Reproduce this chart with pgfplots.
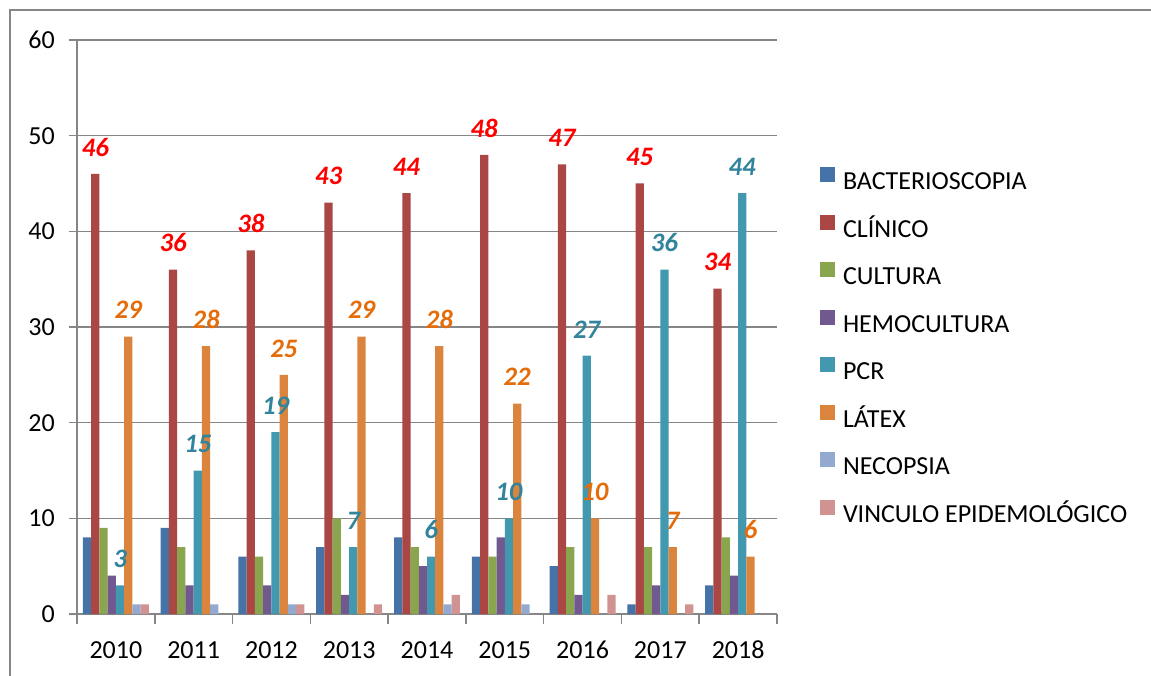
\documentclass[border=0pt]{standalone}
\usepackage{pgfplots}
\pgfplotsset{compat=1.18}
\usepackage{fontspec}
\setmainfont{Carlito}
\definecolor{cB}{HTML}{4572A7}
\definecolor{cR}{HTML}{AA4643}
\definecolor{cG}{HTML}{89A54E}
\definecolor{cP}{HTML}{71588F}
\definecolor{cT}{HTML}{4198AF}
\definecolor{cO}{HTML}{DB843D}
\definecolor{cL}{HTML}{93A9CF}
\definecolor{cK}{HTML}{D19392}
\definecolor{gridc}{HTML}{868686}
\definecolor{labR}{HTML}{FF0000}
\definecolor{labO}{HTML}{E46C0A}
\definecolor{labT}{HTML}{31849B}
\newcommand{\bigfont}{\fontsize{19.5}{23}\selectfont}
\begin{document}
\begin{tikzpicture}
\path[use as bounding box] (-57.75pt,-45.75pt) rectangle (805.5pt,460.5pt);
\draw[gridc, line width=1.1pt] (-50.25pt,-50pt) -- (-50.25pt,453pt) -- (810pt,453pt);
\begin{axis}[
  at={(0pt,0pt)}, anchor=south west,
  scale only axis, width=525pt, height=430.5pt,
  ybar=0pt, bar width=0.106,
  xmin=-0.5, xmax=8.5, ymin=0, ymax=60,
  xtick={0,1,2,3,4,5,6,7,8},
  xticklabels={2010,2011,2012,2013,2014,2015,2016,2017,2018},
  minor xtick={-0.5,0.5,1.5,2.5,3.5,4.5,5.5,6.5,7.5,8.5},
  ytick={0,10,20,30,40,50,60},
  axis lines*=left,
  axis line style={draw=gridc, line width=1.1pt},
  ymajorgrids, major grid style={draw=gridc, line width=1.1pt},
  tick align=outside,
  major tick length=6pt,
  minor tick length=7.5pt,
  major x tick style={draw=none},
  minor x tick style={draw=gridc, line width=1.1pt},
  y tick style={draw=gridc, line width=1.1pt},
  /pgf/number format/assume math mode=true,
  tick label style={font=\bigfont, text=black},
  xticklabel style={anchor=base, inner sep=0pt, yshift=-27.4pt},
  yticklabel style={anchor=east, inner sep=0pt, xshift=-10.5pt},
  legend style={at={(1,0.4664)}, anchor=west, xshift=32.25pt, draw=none, fill=none,
    inner sep=0pt, font=\bigfont, row sep=16.5pt, column sep=5.8pt,
    nodes={inner sep=0pt, text height=15pt, text depth=2.4pt}},
  legend cell align=left,
  legend image code/.code={\fill[#1, draw=none] (0pt,-0.8pt) rectangle (11.25pt,10.45pt);},
  every node near coord/.append style={font=\bfseries\itshape\fontsize{20}{24}\selectfont, inner sep=0pt, anchor=south, yshift=13pt},
]
\addplot[fill=cB, draw=none] coordinates {(0,8) (1,9) (2,6) (3,7) (4,8) (5,6) (6,5) (7,1) (8,3)};
\addplot[fill=cR, draw=none, nodes near coords, every node near coord/.append style={text=labR}] coordinates {(0,46) (1,36) (2,38) (3,43) (4,44) (5,48) (6,47) (7,45) (8,34)};
\addplot[fill=cG, draw=none] coordinates {(0,9) (1,7) (2,6) (3,10) (4,7) (5,6) (6,7) (7,7) (8,8)};
\addplot[fill=cP, draw=none] coordinates {(0,4) (1,3) (2,3) (3,2) (4,5) (5,8) (6,2) (7,3) (8,4)};
\addplot[fill=cT, draw=none, nodes near coords, every node near coord/.append style={text=labT}] coordinates {(0,3) (1,15) (2,19) (3,7) (4,6) (5,10) (6,27) (7,36) (8,44)};
\addplot[fill=cO, draw=none, nodes near coords, every node near coord/.append style={text=labO}] coordinates {(0,29) (1,28) (2,25) (3,29) (4,28) (5,22) (6,10) (7,7) (8,6)};
\addplot[fill=cL, draw=none] coordinates {(0,1) (1,1) (2,1) (3,0) (4,1) (5,1) (6,0) (7,0) (8,0)};
\addplot[fill=cK, draw=none] coordinates {(0,1) (1,0) (2,1) (3,1) (4,2) (5,0) (6,2) (7,1) (8,0)};
\legend{BACTERIOSCOPIA, CLÍNICO, CULTURA, HEMOCULTURA, PCR, LÁTEX, NECOPSIA, VINCULO EPIDEMOLÓGICO}
\end{axis}
\end{tikzpicture}
\end{document}
